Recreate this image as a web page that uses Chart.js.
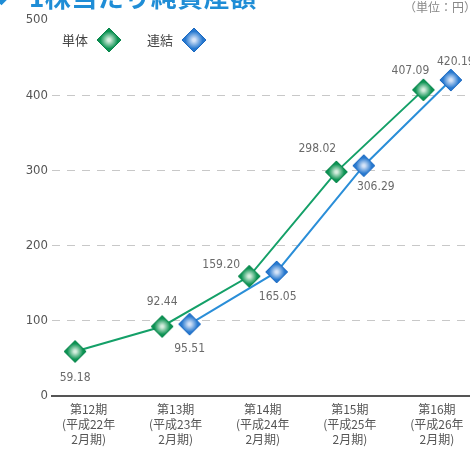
<!DOCTYPE html>
<html>
<head>
<meta charset="utf-8">
<script src="https://cdn.jsdelivr.net/npm/chart.js@4.4.1/dist/chart.umd.min.js"></script>
<style>
  html, body { margin: 0; padding: 0; background: #fff; }
  #wrap { position: relative; width: 470px; height: 475px; overflow: hidden; }
  #chart { position: absolute; left: 0; top: 0; }
  #title { position: absolute; left: 29px; top: -19px; font: bold 26px/30px "Noto Sans CJK JP", sans-serif; color: #1f8dd6; white-space: nowrap; letter-spacing: 0.5px; }
  #mark { position: absolute; left: -4px; top: -8px; width: 11px; height: 11px; background: #1f8dd6; transform: rotate(45deg); }
  #unit { position: absolute; left: 404px; top: 0px; font: 12px/14px "Noto Sans CJK JP", sans-serif; color: #888; white-space: nowrap; }
  #legend { position: absolute; left: 62px; top: 26px; font: 13px/18px "Noto Sans CJK JP", sans-serif; color: #444; white-space: nowrap; }
  #legend span { display: inline-block; vertical-align: middle; }
  #legend canvas { vertical-align: middle; }
</style>
</head>
<body>
<div id="wrap">
  <canvas id="chart" width="470" height="475"></canvas>
  <div id="mark"></div>
  <div id="title">1株当たり純資産額</div>
  <div id="unit">（単位：円）</div>
  <div id="legend"></div>
</div>
<script>
// 1株当たり純資産額 (円)
var periods = [
  ['第12期', '(平成22年', '2月期)'],
  ['第13期', '(平成23年', '2月期)'],
  ['第14期', '(平成24年', '2月期)'],
  ['第15期', '(平成25年', '2月期)'],
  ['第16期', '(平成26年', '2月期)']
];
var tanTai = [59.18, 92.44, 159.20, 298.02, 407.09];        // 単体
var renketsu = [null, 95.51, 165.05, 306.29, 420.19];       // 連結
var yTicks = [0, 100, 200, 300, 400, 500];

// label offsets from each point (px)
var tanTaiLabelPos = [[0, 26], [0, -25], [-28, -11], [-19, -23], [-13, -19]];
var renketsuLabelPos = [null, [0, 25], [1, 25], [12, 21], [5, -18]];

var GREEN = '#14a068', BLUE = '#2a8ed8';
var NARROW = "'Liberation Sans Narrow', 'DejaVu Sans Condensed', sans-serif";

function makeDiamond(edge, dark, light, r) {
  var c = document.createElement('canvas');
  var s = 2 * r + 4;
  c.width = c.height = s;
  var g = c.getContext('2d');
  var m = s / 2;
  g.beginPath();
  g.moveTo(m - r, m); g.lineTo(m, m - r); g.lineTo(m + r, m); g.lineTo(m, m + r);
  g.closePath();
  var grad = g.createRadialGradient(m, m, 0, m, m, r * 0.72);
  grad.addColorStop(0, light);
  grad.addColorStop(0.15, light);
  grad.addColorStop(1, edge);
  g.fillStyle = grad;
  g.fill();
  g.lineWidth = 1;
  g.strokeStyle = dark;
  g.stroke();
  return c;
}

var greenDia = makeDiamond('#0b9252', '#07844a', '#d8efe0', 11);
var blueDia = makeDiamond('#2678cf', '#1b68c0', '#d6e4f8', 11);

// legend: text then marker
var legend = document.getElementById('legend');
[['単体', 0], ['連結', 1]].forEach(function(it) {
  var i = it[1];
  var t = document.createElement('span');
  t.textContent = it[0];
  t.style.marginLeft = i ? '24px' : '0';
  t.style.marginRight = '7px';
  legend.appendChild(t);
  legend.appendChild(i ? makeDiamond('#2678cf', '#1b68c0', '#d6e4f8', 12)
                       : makeDiamond('#0b9252', '#07844a', '#d8efe0', 12));
});

function toPoints(vals, shift) {
  var out = [];
  vals.forEach(function(v, i) {
    if (v !== null) out.push({ x: i + shift, y: v });
  });
  return out;
}

var valueLabels = {
  id: 'valueLabels',
  afterDatasetsDraw: function(chart) {
    var ctx = chart.ctx;
    ctx.save();
    ctx.font = '12px ' + NARROW;
    ctx.fillStyle = '#6a6a6a';
    ctx.textAlign = 'center';
    ctx.textBaseline = 'middle';
    [[tanTai, tanTaiLabelPos], [renketsu, renketsuLabelPos]].forEach(function(set, di) {
      var meta = chart.getDatasetMeta(di);
      var k = 0;
      set[0].forEach(function(v, i) {
        if (v === null) return;
        var p = meta.data[k++];
        var off = set[1][i];
        ctx.fillText(v.toFixed(2), p.x + off[0], p.y + off[1]);
      });
    });
    ctx.restore();
  }
};

new Chart(document.getElementById('chart'), {
  type: 'line',
  data: {
    datasets: [{
      label: '単体',
      data: toPoints(tanTai, -0.155),
      borderColor: GREEN,
      borderWidth: 2,
      pointStyle: greenDia,
      pointRadius: 11,
      tension: 0
    }, {
      label: '連結',
      data: toPoints(renketsu, 0.16),
      borderColor: BLUE,
      borderWidth: 2,
      pointStyle: blueDia,
      pointRadius: 11,
      tension: 0
    }]
  },
  options: {
    responsive: false,
    animation: false,
    layout: { autoPadding: false, padding: { top: 20, right: 0, left: 0, bottom: 0 } },
    plugins: { legend: { display: false }, tooltip: { enabled: false } },
    scales: {
      x: {
        type: 'linear',
        min: -0.42,
        max: 4.38,
        afterBuildTicks: function(axis) {
          axis.ticks = periods.map(function(p, i) { return { value: i }; });
        },
        afterFit: function(axis) {
          axis.height = 79;
          axis.paddingLeft = 0;
          axis.paddingRight = 0;
        },
        grid: { display: false, drawTicks: false },
        border: { display: true, color: '#555', width: 2 },
        ticks: {
          padding: 6,
          autoSkip: false,
          maxRotation: 0,
          color: '#555',
          font: { family: "'Noto Sans CJK JP', sans-serif", size: 12, lineHeight: 1.25 },
          callback: function(v) { return periods[v]; }
        }
      },
      y: {
        min: 0,
        max: 500,
        afterBuildTicks: function(axis) {
          axis.ticks = yTicks.map(function(v) { return { value: v }; });
        },
        afterFit: function(axis) { axis.width = 52; },
        grid: {
          drawTicks: false,
          lineWidth: 1,
          borderDash: [8, 7],
          color: function(c) {
            var v = c.tick && c.tick.value;
            return (v === 0 || v === 500) ? 'rgba(0,0,0,0)' : '#c8c8c8';
          }
        },
        border: { display: false, dash: [8, 7] },
        ticks: {
          padding: 4,
          color: '#555',
          font: { family: NARROW, size: 13 }
        }
      }
    }
  },
  plugins: [valueLabels]
});
</script>
</body>
</html>
